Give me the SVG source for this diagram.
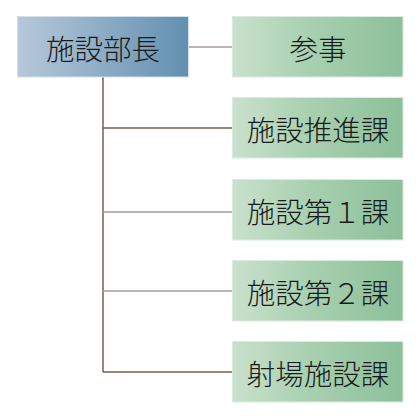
<svg xmlns="http://www.w3.org/2000/svg" width="420" height="419" viewBox="0 0 420 419">
<defs>
<linearGradient id="gb" x1="0" y1="0" x2="1" y2="0">
<stop offset="0" stop-color="#b7c8d9"/>
<stop offset="1" stop-color="#6290b1"/>
</linearGradient>
<linearGradient id="gg" x1="0" y1="0" x2="1" y2="0">
<stop offset="0" stop-color="#cae1cd"/>
<stop offset="0.45" stop-color="#a8d0b0"/>
<stop offset="1" stop-color="#8cbf9a"/>
</linearGradient>
<style>
.blue{fill:url(#gb);stroke:#d3e0ea;stroke-width:1}
.green{fill:url(#gg);stroke:#dcebdf;stroke-width:1}
text{font-family:"Noto Sans CJK JP","Noto Sans",sans-serif;font-size:28.5px;font-weight:300;fill:#1a1a1a;text-anchor:middle;dominant-baseline:central}
.c{stroke:#7a5c48;stroke-width:1.5;fill:none}
.c2{stroke:#a8999a;stroke-width:1.5;fill:none}
</style>
</defs>
<g id="connectors">
<line class="c" x1="103" y1="77" x2="103" y2="372"/>
<line class="c2" x1="189" y1="47" x2="232" y2="47"/>
<line class="c" x1="103" y1="128" x2="232" y2="128"/>
<line class="c2" x1="103" y1="212" x2="232" y2="212"/>
<line class="c2" x1="103" y1="291" x2="232" y2="291"/>
<line class="c" x1="103" y1="372" x2="232" y2="372"/>
</g>
<g id="n0"><rect class="blue" x="17.5" y="16.5" width="171" height="60.5"/><text x="103" y="47">施設部長</text></g>
<g id="n1"><rect class="green" x="232.5" y="16.5" width="170.5" height="60.5"/><text x="318" y="47">参事</text></g>
<g id="n2"><rect class="green" x="232.5" y="97.5" width="170.5" height="60.5"/><text x="318" y="128">施設推進課</text></g>
<g id="n3"><rect class="green" x="232.5" y="179.5" width="170.5" height="60.5"/><text x="318" y="210">施設第１課</text></g>
<g id="n4"><rect class="green" x="232.5" y="260.5" width="170.5" height="60.5"/><text x="318" y="291">施設第２課</text></g>
<g id="n5"><rect class="green" x="232.5" y="341.5" width="170.5" height="60.5"/><text x="318" y="372">射場施設課</text></g>
</svg>
